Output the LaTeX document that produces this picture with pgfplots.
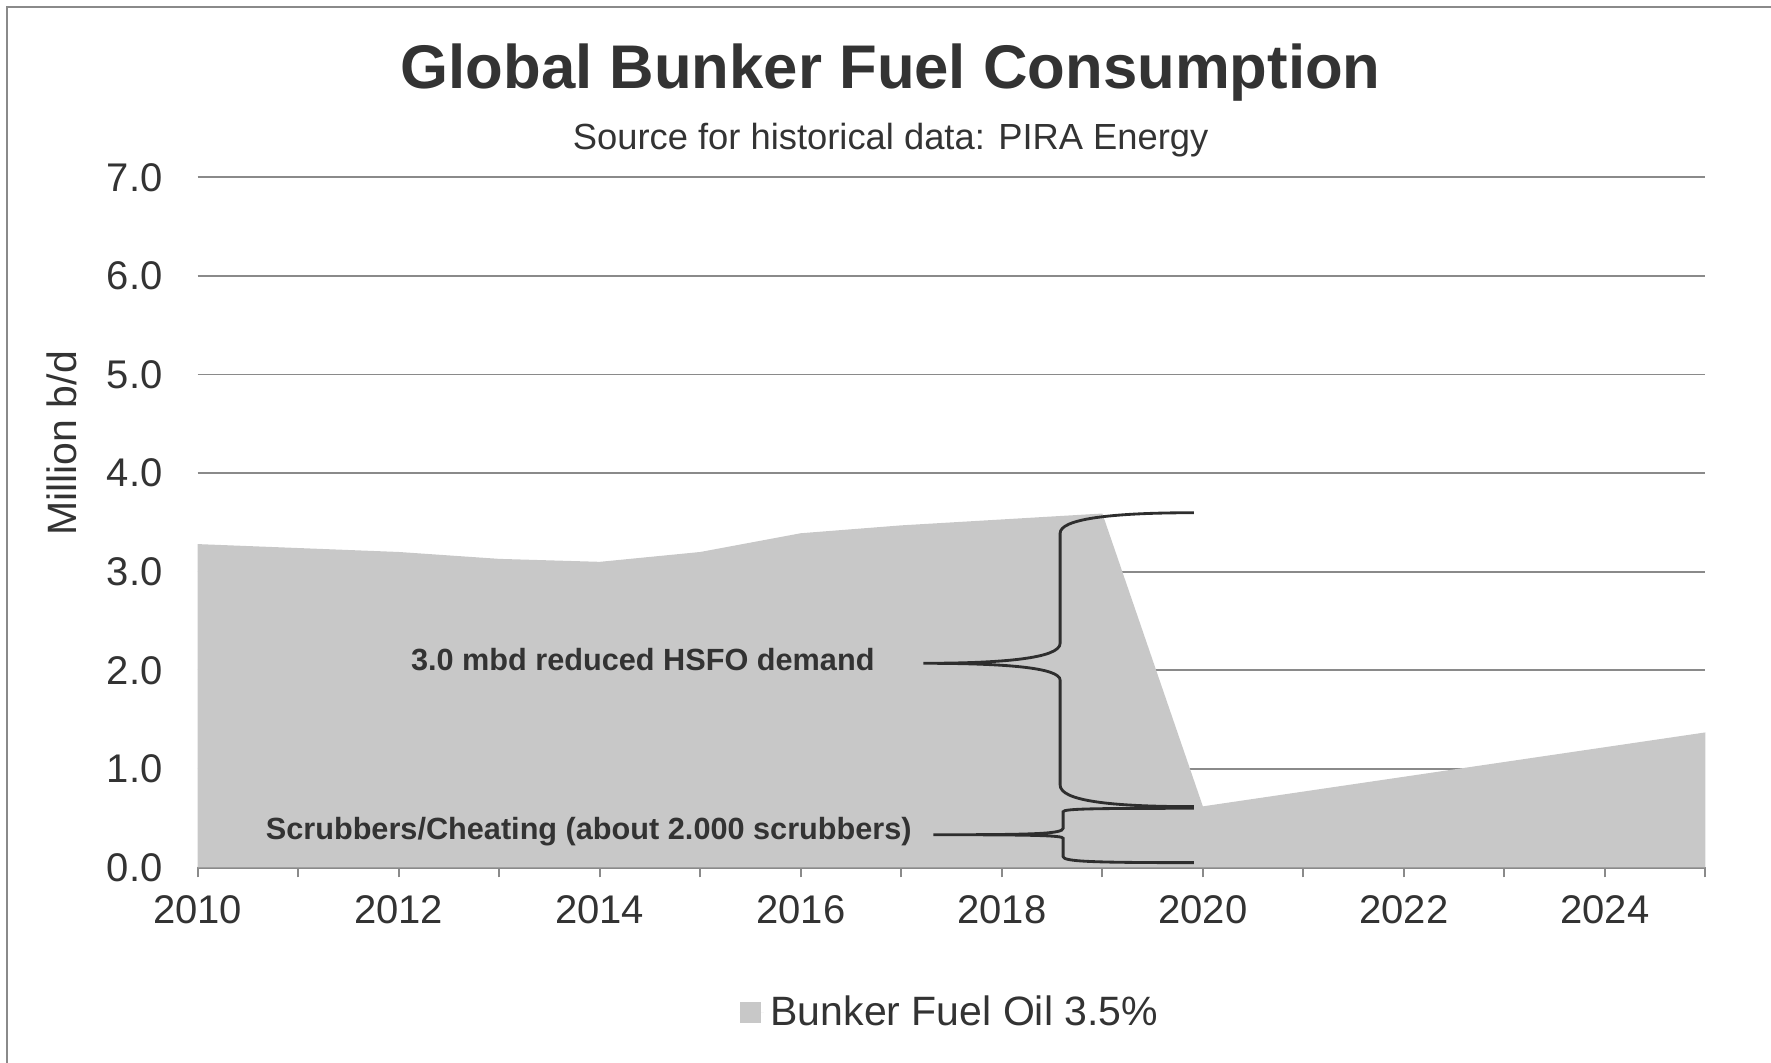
\documentclass[border=0pt]{standalone}
\usepackage{fontspec}
\setmainfont{Liberation Sans}
\usepackage{pgfplots}
\pgfplotsset{compat=1.18}
\definecolor{areagray}{HTML}{C8C8C8}
\definecolor{gridgray}{HTML}{8A8A8A}
\definecolor{txt}{HTML}{333333}
\definecolor{bracec}{HTML}{2E2E2E}
\begin{document}
\begin{tikzpicture}
\useasboundingbox (-59.31pt,-58.65pt) rectangle (472.0pt,260.25pt);
\draw[gridgray, line width=0.75pt] (-57.21pt,-60pt) -- (-57.21pt,258.15pt) -- (474pt,258.15pt);
\begin{axis}[
  at={(0,0)}, anchor=south west,
  width=452.34pt, height=207.06pt, scale only axis,
  xmin=2010, xmax=2025, ymin=0, ymax=7,
  axis lines*=left,
  y axis line style={draw=none},
  x axis line style={draw=gridgray, line width=0.7pt},
  /pgf/number format/assume math mode=true,
  xtick={2010,2012,...,2024},
  minor xtick={2011,2013,...,2025},
  tick align=outside,
  major tick length=3pt, minor tick length=3pt,
  xtick style={draw=gridgray, line width=0.6pt},
  minor x tick style={draw=gridgray, line width=0.6pt},
  ytick={0,1,...,7},
  ytick style={draw=none},
  ymajorgrids,
  grid style={gridgray, line width=0.5pt},
  tick label style={font=\fontsize{12}{14}\selectfont, text=txt},
  xticklabel style={/pgf/number format/1000 sep={}, yshift=-2pt},
  yticklabel style={/pgf/number format/.cd, fixed, fixed zerofill, precision=1, /tikz/.cd, xshift=-4pt},
  ylabel={Million b/d},
  ylabel style={at={(axis description cs:-0.090,0.6146)}, anchor=center, font=\fontsize{12.3}{14}\selectfont, text=txt},
  legend style={at={(axis description cs:0.359,-0.2108)}, anchor=west, draw=none, fill=none, inner sep=0pt,
    font=\fontsize{12.3}{14}\selectfont, text=txt, legend cell align=left},
  legend image code/.code={\fill[areagray] (0pt,-3.15pt) rectangle (6.3pt,3.15pt); \path (0pt,0pt) -- (7.3pt,0pt);},
  clip=false,
]
\addplot[fill=areagray, draw=none] coordinates {
  (2010,3.28) (2011,3.24) (2012,3.20) (2013,3.13) (2014,3.10) (2015,3.20)
  (2016,3.39) (2017,3.47) (2018,3.53) (2019,3.59) (2020,0.62) (2021,0.77)
  (2022,0.92) (2023,1.07) (2024,1.22) (2025,1.37)
} \closedcycle;
\addlegendentry{Bunker Fuel Oil 3.5\%}

% large brace
\draw[bracec, line width=0.85pt]
  (axis cs:2019.91,3.598) .. controls (axis cs:2019.05,3.598) and (axis cs:2018.58,3.53) .. (axis cs:2018.58,3.39)
  -- (axis cs:2018.58,2.274)
  .. controls (axis cs:2018.58,2.12) and (axis cs:2018.0,2.071) .. (axis cs:2017.22,2.071)
  .. controls (axis cs:2018.0,2.071) and (axis cs:2018.58,2.03) .. (axis cs:2018.58,1.90)
  -- (axis cs:2018.58,0.837)
  .. controls (axis cs:2018.58,0.68) and (axis cs:2019.05,0.617) .. (axis cs:2019.91,0.617);
% small brace
\draw[bracec, line width=0.85pt]
  (axis cs:2019.91,0.600) .. controls (axis cs:2019.0,0.600) and (axis cs:2018.61,0.598) .. (axis cs:2018.61,0.566)
  -- (axis cs:2018.61,0.398)
  .. controls (axis cs:2018.61,0.34) and (axis cs:2018.3,0.332) .. (axis cs:2017.32,0.332)
  .. controls (axis cs:2018.3,0.332) and (axis cs:2018.61,0.325) .. (axis cs:2018.61,0.296)
  -- (axis cs:2018.61,0.110)
  .. controls (axis cs:2018.61,0.06) and (axis cs:2018.9,0.049) .. (axis cs:2019.91,0.049);

\node[anchor=east, inner sep=0pt, font=\bfseries\fontsize{9.2}{11}\selectfont, text=txt]
  at (axis cs:2016.74,2.108) {3.0 mbd reduced HSFO demand};
\node[anchor=east, inner sep=0pt, font=\bfseries\fontsize{9.2}{11}\selectfont, text=txt]
  at (axis cs:2017.11,0.367) {Scrubbers/Cheating (about 2.000 scrubbers)};
\end{axis}
\node[anchor=base, inner sep=0pt, font=\bfseries\fontsize{18.5}{22}\selectfont, text=txt] at (207.9pt,233.8pt) {Global Bunker Fuel Consumption};
\node[anchor=base, inner sep=0pt, font=\fontsize{10.9}{13}\selectfont, text=txt] at (207.9pt,215.5pt) {Source for historical data: PIRA Energy};
\end{tikzpicture}
\end{document}
